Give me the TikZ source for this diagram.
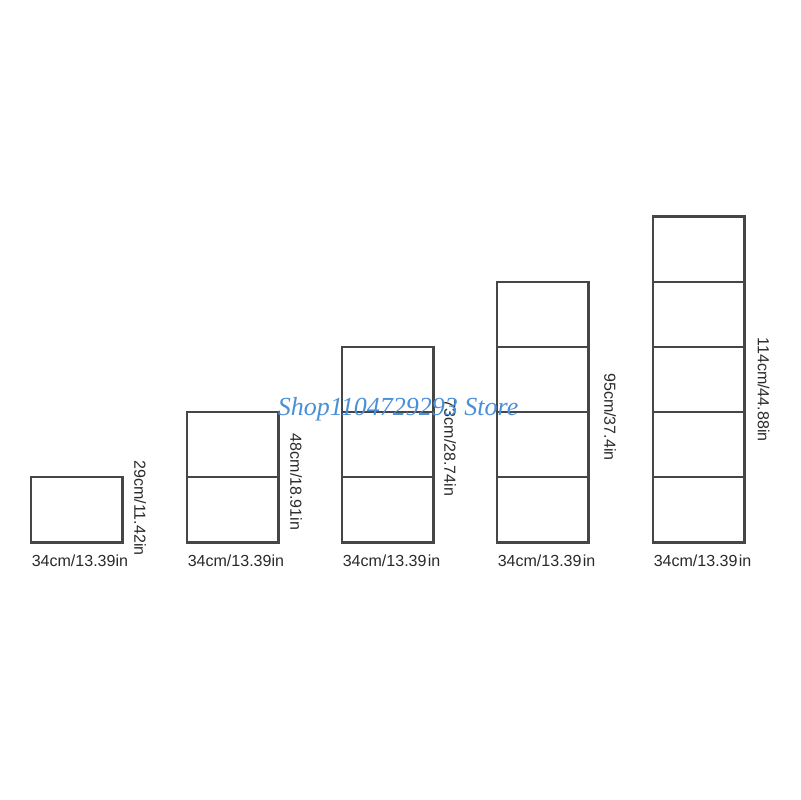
\documentclass[tikz,border=0pt]{standalone}
\usepackage{fontspec}
\setmainfont{Liberation Sans}
\newfontfamily\wmfont{Liberation Serif}
\definecolor{linegray}{HTML}{464646}
\definecolor{textgray}{HTML}{2A2A2A}
\definecolor{wmblue}{HTML}{4A8FD8}
\begin{document}
\begin{tikzpicture}[x=0.025cm,y=-0.025cm,
  cell/.style={draw=linegray,line width=1.6pt},
  wlab/.style={font=\fontsize{11.4}{13}\selectfont,text=textgray,anchor=base west,inner sep=0pt},
  hlab/.style={font=\fontsize{11.4}{13}\selectfont,text=textgray,rotate=-90,anchor=center,inner sep=0pt},
  wm/.style={font=\wmfont\itshape\fontsize{18.5}{20}\selectfont,text=wmblue,anchor=base west,inner sep=0pt}]
\useasboundingbox (0,0) rectangle (800,800);
\fill[white] (0,0) rectangle (800,800);
% stack 1
\draw[cell] (31,542.5) rectangle (122.5,477.3);
% stack 2
\draw[cell] (187,542.5) rectangle (278.5,412.1);
\draw[cell] (187,477.3) -- (278.5,477.3);
% stack 3
\draw[cell] (342,542.5) rectangle (433.5,346.9);
\foreach \yy in {477.3,412.1} \draw[cell] (342,\yy) -- (433.5,\yy);
% stack 4
\draw[cell] (497,542.5) rectangle (588.5,281.7);
\foreach \yy in {477.3,412.1,346.9} \draw[cell] (497,\yy) -- (588.5,\yy);
% stack 5
\draw[cell] (653,542.5) rectangle (744.5,216.5);
\foreach \yy in {477.3,412.1,346.9,281.7} \draw[cell] (653,\yy) -- (744.5,\yy);
% width labels
\node[wlab] (w1) at (31.5,566.5) {34cm/13.39in};
\node[wlab] (w2) at (187.5,566.5) {34cm/13.39in};
\node[wlab] (w3) at (342.5,566.5) {34cm/13.39\hspace{0.9pt}in};
\node[wlab] (w4) at (497.5,566.5) {34cm/13.39\hspace{0.9pt}in};
\node[wlab] (w5) at (653.5,566.5) {34cm/13.39\hspace{0.9pt}in};
% height labels
\node[hlab] (h1) at (140,508) {29cm/11.42in};
\node[hlab] (h2) at (296,482) {48cm/18.91in};
\node[hlab] (h3) at (450,448) {73cm/28.74in};
\node[hlab] (h4) at (610,417) {95cm/37.4in};
\node[hlab] (h5) at (763.5,389.5) {114cm/44.88in};
% watermark
\node[wm] (wmark) at (277.5,415) {Shop1104729293 Store};
\end{tikzpicture}
\end{document}
